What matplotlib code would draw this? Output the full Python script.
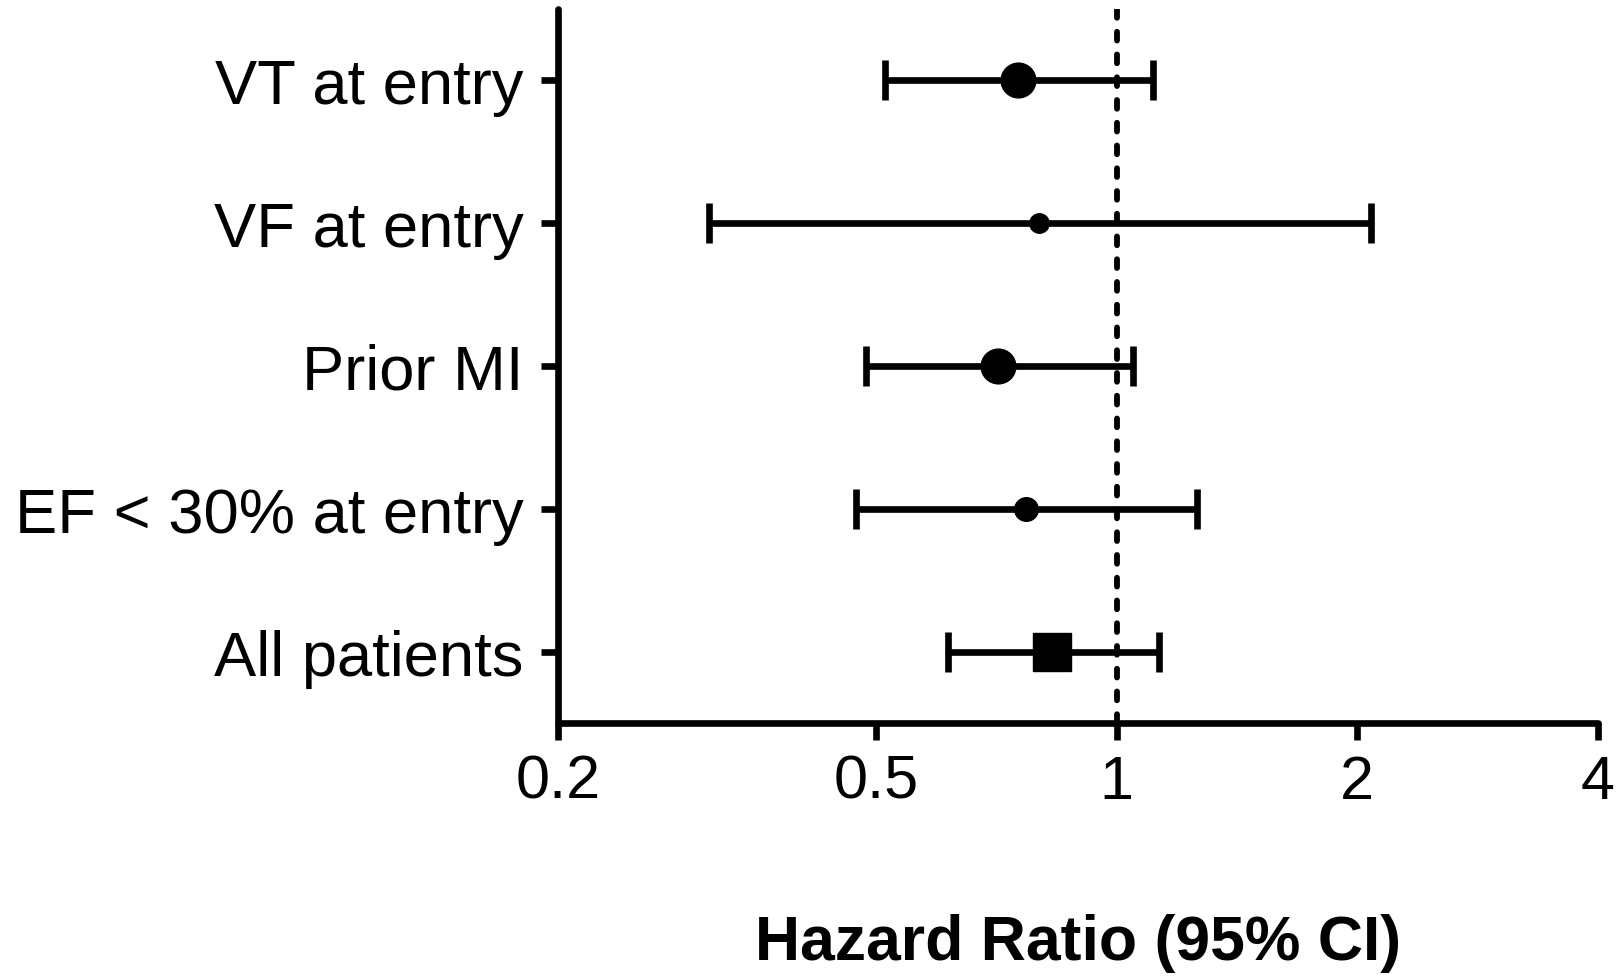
import matplotlib
matplotlib.use("Agg")
import matplotlib.pyplot as plt
from matplotlib.ticker import FixedLocator, FixedFormatter, NullLocator

# forest plot values (hazard ratio with 95% CI), top to bottom
labels = ["VT at entry", "VF at entry", "Prior MI", "EF < 30% at entry", "All patients"]
hr = [0.753, 0.80, 0.71, 0.77, 0.83]
ci_low = [0.513, 0.309, 0.486, 0.472, 0.615]
ci_high = [1.11, 2.08, 1.05, 1.26, 1.13]
marker_sizes = [25, 14, 25, 17, 28]
markers = ["o", "o", "o", "o", "s"]

xticks = [0.2, 0.5, 1, 2, 4]
xtick_labels = ["0.2", "0.5", "1", "2", "4"]

plt.rcParams["font.family"] = ["Liberation Sans", "DejaVu Sans"]

fig = plt.figure(figsize=(16.22, 9.79), dpi=100)
ax = fig.add_axes([0.344, 0.2605, 0.641, 0.7295])

lw = 4.8
ypos = list(range(len(labels), 0, -1))
for y, h, lo, hi, ms, mk in zip(ypos, hr, ci_low, ci_high, marker_sizes, markers):
    ax.errorbar([h], [y], xerr=[[h - lo], [hi - h]], fmt=mk, color="black",
                markersize=ms, elinewidth=lw, capsize=14.5, capthick=lw,
                zorder=3)

ax.axvline(1, color="black", lw=4.2, linestyle=(0, (1.5, 2.4)),
           dash_capstyle="round", zorder=2)

ax.set_xscale("log")
ax.set_xlim(0.2, 4)
ax.set_ylim(0.5, 5.5)
ax.xaxis.set_major_locator(FixedLocator(xticks))
ax.xaxis.set_major_formatter(FixedFormatter(xtick_labels))
ax.xaxis.set_minor_locator(NullLocator())
ax.set_yticks(ypos)
ax.set_yticklabels(labels)

for side in ["top", "right"]:
    ax.spines[side].set_visible(False)
for side in ["left", "bottom"]:
    ax.spines[side].set_linewidth(lw)
    ax.spines[side].set_capstyle("round")

ax.tick_params(axis="both", length=12, width=lw, direction="out",
               colors="black")
ax.tick_params(axis="x", pad=10, labelsize=44)
ax.tick_params(axis="y", pad=13, labelsize=45.5)

ax.set_xlabel("Hazard Ratio (95% CI)", fontsize=45, fontweight="bold",
              labelpad=74)

fig.savefig("out.png", dpi=100)
